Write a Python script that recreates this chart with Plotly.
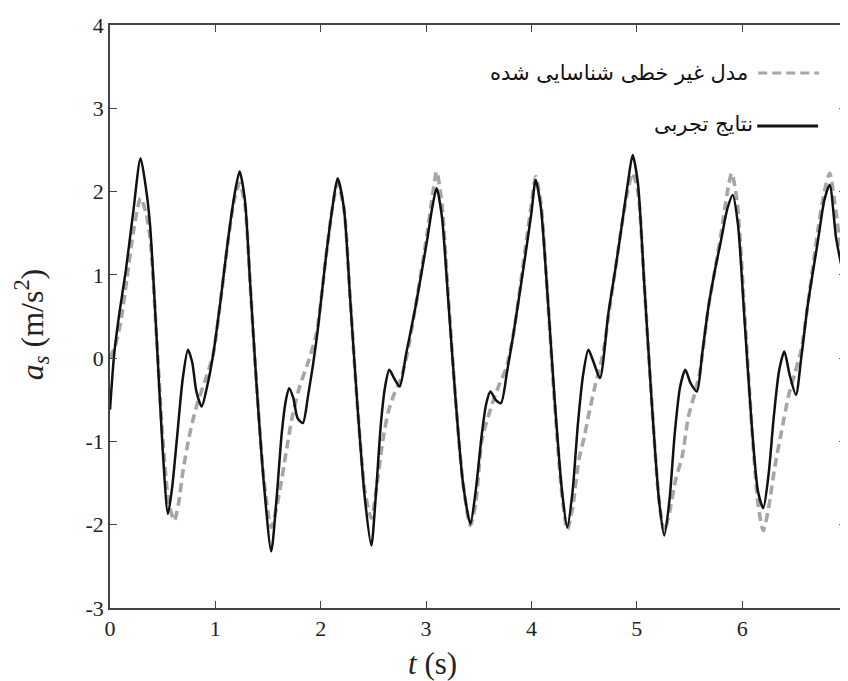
import plotly.graph_objects as go

# ---- data ----
exp_t = [0.00, 0.04, 0.09, 0.15, 0.22, 0.29, 0.34, 0.38, 0.44, 0.50, 0.55, 0.59, 0.64, 0.69, 0.74, 0.78, 0.82, 0.87,
         0.92, 0.98, 1.05, 1.12, 1.18, 1.23, 1.28, 1.33, 1.39, 1.46, 1.53, 1.58, 1.63, 1.67, 1.70, 1.74, 1.78, 1.83,
         1.88, 1.96, 2.05, 2.11, 2.16, 2.22, 2.28, 2.35, 2.42, 2.48, 2.52, 2.57, 2.61, 2.65, 2.70, 2.75, 2.81, 2.90,
         3.01, 3.06, 3.10, 3.15, 3.21, 3.28, 3.35, 3.42, 3.47, 3.53, 3.57, 3.61, 3.66, 3.71, 3.77, 3.83, 3.94, 4.00,
         4.04, 4.09, 4.15, 4.22, 4.29, 4.34, 4.39, 4.44, 4.49, 4.54, 4.59, 4.65, 4.73, 4.80, 4.86, 4.92, 4.96, 5.01,
         5.07, 5.14, 5.21, 5.26, 5.31, 5.36, 5.41, 5.46, 5.51, 5.57, 5.62, 5.68, 5.74, 5.80, 5.86, 5.91, 5.96, 6.02,
         6.09, 6.15, 6.20, 6.25, 6.30, 6.35, 6.40, 6.45, 6.51, 6.56, 6.62, 6.72, 6.78, 6.83, 6.89, 6.93, 6.98]
exp_a = [-0.62, 0.05, 0.55, 1.05, 1.75, 2.40, 2.05, 1.60, 0.30, -1.10, -1.87, -1.55, -0.90, -0.25, 0.10, -0.05, -0.40, -0.58,
         -0.35, 0.05, 0.70, 1.42, 1.95, 2.24, 1.90, 0.90, -0.30, -1.50, -2.32, -1.70, -0.90, -0.50, -0.36, -0.48, -0.72, -0.78,
         -0.45, 0.22, 1.22, 1.80, 2.16, 1.80, 0.70, -0.60, -1.70, -2.25, -1.70, -0.80, -0.35, -0.14, -0.25, -0.34, 0.05, 0.62,
         1.42, 1.82, 2.04, 1.70, 0.70, -0.50, -1.50, -1.99, -1.60, -0.90, -0.55, -0.40, -0.50, -0.54, -0.15, 0.30, 1.22, 1.75,
         2.14, 1.80, 0.80, -0.50, -1.60, -2.03, -1.60, -0.80, -0.20, 0.10, -0.05, -0.24, 0.54, 1.10, 1.62, 2.15, 2.44, 2.10,
         0.90, -0.50, -1.70, -2.13, -1.70, -0.90, -0.35, -0.14, -0.30, -0.40, 0.05, 0.62, 1.05, 1.42, 1.80, 1.96, 1.60, 0.50,
         -0.80, -1.60, -1.80, -1.40, -0.70, -0.15, 0.08, -0.20, -0.44, 0.00, 0.62, 1.42, 1.90, 2.08, 1.45, 1.18, 0.88]

model_t = [0.00, 0.05, 0.10, 0.16, 0.22, 0.29, 0.34, 0.38, 0.44, 0.50, 0.56, 0.61, 0.65, 0.69, 0.75, 0.82, 0.90, 0.98,
           1.05, 1.12, 1.18, 1.23, 1.28, 1.33, 1.39, 1.46, 1.53, 1.58, 1.63, 1.67, 1.73, 1.80, 1.88, 1.96, 2.05, 2.11,
           2.16, 2.22, 2.28, 2.35, 2.42, 2.48, 2.53, 2.59, 2.64, 2.70, 2.76, 2.82, 2.90, 3.01, 3.06, 3.10, 3.15, 3.21,
           3.28, 3.35, 3.42, 3.47, 3.53, 3.59, 3.64, 3.70, 3.76, 3.83, 3.94, 4.00, 4.04, 4.09, 4.15, 4.22, 4.29, 4.34,
           4.39, 4.45, 4.50, 4.54, 4.60, 4.68, 4.73, 4.80, 4.86, 4.92, 4.96, 5.01, 5.07, 5.14, 5.21, 5.26, 5.31, 5.37,
           5.43, 5.49, 5.55, 5.60, 5.68, 5.74, 5.80, 5.86, 5.90, 5.95, 6.02, 6.09, 6.15, 6.20, 6.25, 6.31, 6.37, 6.44,
           6.50, 6.56, 6.62, 6.72, 6.78, 6.83, 6.88, 6.93, 6.98]
model_a = [0.00, 0.15, 0.42, 0.95, 1.50, 1.92, 1.75, 1.45, 0.30, -0.95, -1.75, -1.95, -1.75, -1.38, -0.95, -0.58, -0.28, 0.05,
           0.70, 1.40, 1.90, 2.10, 1.85, 0.90, -0.30, -1.45, -2.03, -1.80, -1.45, -1.14, -0.70, -0.34, -0.05, 0.30, 1.22, 1.80,
           2.10, 1.80, 0.70, -0.60, -1.60, -1.92, -1.55, -0.98, -0.65, -0.42, -0.25, 0.05, 0.62, 1.50, 1.95, 2.24, 1.85, 0.75,
           -0.50, -1.50, -2.01, -1.75, -0.98, -0.70, -0.50, -0.30, -0.12, 0.30, 1.30, 1.85, 2.18, 1.85, 0.80, -0.55, -1.65, -2.06,
           -1.80, -1.22, -0.95, -0.70, -0.35, 0.06, 0.50, 1.10, 1.62, 2.05, 2.22, 2.00, 0.90, -0.50, -1.70, -2.08, -1.85, -1.45,
           -1.18, -0.70, -0.42, -0.15, 0.62, 1.05, 1.50, 2.00, 2.22, 1.90, 0.60, -0.80, -1.75, -2.07, -1.80, -1.30, -0.90, -0.45,
           -0.18, 0.10, 0.62, 1.55, 2.00, 2.22, 1.85, 1.35, 0.85]

x_ticks = [0, 1, 2, 3, 4, 5, 6, 7]
x_ticktext = ["0", "1", "2", "3", "4", "5", "6", "7"]
y_ticks = [-3, -2, -1, 0, 1, 2, 3, 4]
y_ticktext = ["-3", "-2", "-1", "0", "1", "2", "3", "4"]
label_model = "مدل غیر خطی شناسایی شده"
label_exp = "نتایج تجربی"
x_title = "<i>t</i> (s)"
y_title = "<i>a<sub>s</sub></i> (m/s<sup>2</sup>)"

SERIF = "Liberation Serif, Times New Roman, Times, serif"
GRAY = "#a6a6a6"

fig = go.Figure()
fig.add_trace(go.Scatter(x=model_t, y=model_a, mode="lines", name=label_model,
                         line=dict(color=GRAY, width=3.6, dash="9px,5px", shape="spline", smoothing=0.7)))
fig.add_trace(go.Scatter(x=exp_t, y=exp_a, mode="lines", name=label_exp,
                         line=dict(color="#111111", width=2.5, shape="spline", smoothing=0.7)))

tickfont = dict(family=SERIF, size=22, color="#222")
fig.update_xaxes(range=[0, 6.985], tickvals=x_ticks, ticktext=x_ticktext, ticks="inside", ticklen=7,
                 tickcolor="#444", showline=True, linecolor="#444", linewidth=1.5, mirror="ticks",
                 showgrid=False, zeroline=False, tickfont=tickfont)
fig.update_yaxes(range=[-3, 4], tickvals=y_ticks, ticktext=y_ticktext, ticks="inside", ticklen=7,
                 tickcolor="#444", showline=True, linecolor="#444", linewidth=1.5, mirror="ticks",
                 showgrid=False, zeroline=False, tickfont=tickfont)

# positions in page pixels -> paper units (plot area: x 110..848, y 25..608)
PW, PH = 738, 583
def px_x(px):
    return (px - 110) / PW
def px_y(py):
    return (608 - py) / PH

# last x tick label "7" sits just past the cropped right edge, only partly visible
fig.add_annotation(xref="paper", yref="paper", x=px_x(849.7), y=px_y(626), text=x_ticktext[-1],
                   showarrow=False, xanchor="center", yanchor="middle", font=tickfont)

# axis titles
fig.add_annotation(xref="paper", yref="paper", x=px_x(433), y=px_y(663), text=x_title, showarrow=False,
                   xanchor="center", yanchor="middle", font=dict(family=SERIF, size=31, color="#222"))
fig.add_annotation(xref="paper", yref="paper", x=px_x(31), y=px_y(325), text=y_title, showarrow=False,
                   textangle=-90, xanchor="center", yanchor="middle",
                   font=dict(family=SERIF, size=32, color="#222"))

# manual legend (line drawn to the right of the right-to-left text)
fig.add_annotation(xref="paper", yref="paper", x=px_x(752), y=px_y(73),
                   text=label_model, showarrow=False, xanchor="right", yanchor="middle",
                   font=dict(family="DejaVu Sans", size=21, color="#111"))
fig.add_annotation(xref="paper", yref="paper", x=px_x(757), y=px_y(124),
                   text=label_exp, showarrow=False, xanchor="right", yanchor="middle",
                   font=dict(family="DejaVu Sans", size=21, color="#111"))
fig.add_shape(type="line", xref="paper", yref="paper", x0=px_x(760), x1=px_x(821),
              y0=px_y(73), y1=px_y(73), line=dict(color=GRAY, width=3.2, dash="9px,5px"))
fig.add_shape(type="line", xref="paper", yref="paper", x0=px_x(759), x1=px_x(820),
              y0=px_y(126), y1=px_y(126), line=dict(color="#111111", width=2.8))

# the page body has an 8px margin, so the figure is shifted by 8px
fig.update_layout(width=840, height=673, margin=dict(l=102, r=0, t=17, b=73),
                  paper_bgcolor="white", plot_bgcolor="white", showlegend=False)

fig.write_html("out.html")
